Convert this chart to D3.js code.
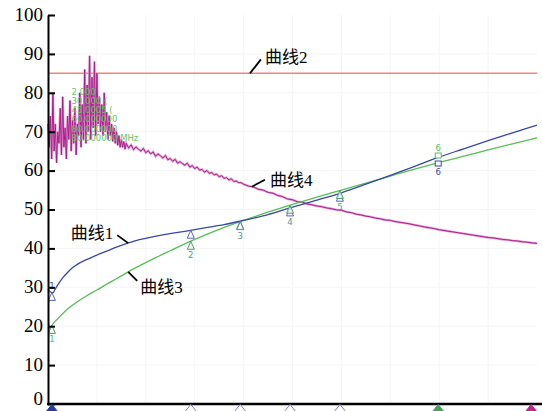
<!DOCTYPE html>
<html>
<head>
<meta charset="utf-8">
<script src="https://cdn.jsdelivr.net/npm/d3@7"></script>
<style>
  body { margin: 0; background: #fff; }
  svg { display: block; }
</style>
</head>
<body>
<div id="chart"></div>
<script>
// values (x in % of span, y in dB)
const yTicks = [0, 10, 20, 30, 40, 50, 60, 70, 80, 90, 100];
const limitValue = 85;
const curveNames = ["曲线1", "曲线2", "曲线3", "曲线4"];

const curve1 = [
  [0, 29.6], [0.5, 28.8], [1, 28.6], [1.5, 29.6], [2, 30.6], [3, 32.4], [4, 33.8], [5, 35.0],
  [6, 35.9], [8, 37.2], [10, 38.3], [12, 39.3], [14, 40.3], [16, 41.2], [18, 42.0], [20, 42.6],
  [24, 43.6], [28, 44.4], [32, 45.3], [36, 46.1], [40, 47.2], [45, 48.7], [50, 50.6], [55, 52.4],
  [60, 54.3], [65, 56.5], [70, 58.8], [75, 61.1], [80, 63.5], [85, 65.6], [90, 67.7], [95, 69.7],
  [100, 71.7]
];

const curve3 = [
  [0, 19.8], [0.4, 19.5], [0.8, 20.2], [1.5, 21.3], [2.5, 22.6], [4, 24.4], [6, 26.3], [8, 27.9],
  [10, 29.3], [12, 30.8], [14, 32.2], [17, 34.4], [21, 37.0], [25, 39.4], [30, 42.3], [35, 44.9],
  [40, 47.2], [45, 49.3], [50, 51.3], [55, 53.2], [60, 55.0], [65, 56.8], [70, 58.6], [75, 60.4],
  [80, 62.1], [85, 63.7], [90, 65.3], [95, 66.9], [100, 68.4]
];

const curve4 = [
  [0, 72], [0.25, 66], [0.5, 74], [0.75, 63], [1, 80], [1.25, 65], [1.5, 72], [1.75, 62],
  [2, 70], [2.25, 67], [2.5, 76], [2.75, 64], [3, 79], [3.25, 66], [3.5, 71], [3.75, 63],
  [4, 74], [4.25, 68], [4.5, 78], [4.75, 65], [5, 73], [5.25, 67], [5.5, 76], [5.75, 64],
  [6, 72], [6.25, 69], [6.5, 80], [6.75, 66], [7, 77], [7.25, 68], [7.5, 86], [7.75, 67],
  [8, 82], [8.25, 70], [8.5, 89.5], [8.75, 68], [9, 84], [9.25, 71], [9.5, 88], [9.75, 69],
  [10, 85], [10.25, 72], [10.5, 79], [10.75, 70], [11, 77], [11.25, 69], [11.5, 80], [11.75, 70],
  [12, 75], [12.25, 68], [12.5, 74], [12.75, 69], [13, 72], [13.25, 67.5], [13.5, 71], [13.75, 67],
  [14, 70], [14.25, 66.5], [14.5, 69], [14.75, 66], [15, 68], [15.25, 66], [15.5, 67.5], [15.75, 65.5],
  [16, 67], [16.5, 65.8], [17, 66.6], [17.5, 65.4], [18, 66.1], [18.5, 65.5], [19, 65.0], [19.5, 65.7],
  [20, 64.6], [20.5, 65.1], [21, 64.3], [21.5, 64.8], [22, 63.7], [22.5, 64.3], [23, 63.8], [23.5, 63.2],
  [24, 63.9], [24.5, 62.8], [25, 63.1], [25.5, 62.4], [26, 62.9], [26.5, 61.9], [27, 62.3], [27.5, 61.8],
  [28, 61.4], [28.5, 61.9], [29, 60.9], [29.5, 61.3], [30, 60.5], [30.5, 60.9], [31, 60.1], [31.5, 60.3],
  [32, 59.6], [32.5, 60.0], [33, 59.3], [33.5, 59.5], [34, 58.9], [34.5, 59.1], [35, 58.4], [35.5, 58.7],
  [36, 58.0], [36.5, 58.2], [37, 57.6], [37.5, 57.9], [38, 57.2], [38.5, 57.3], [39, 56.9], [39.5, 56.9],
  [40, 56.5], [41, 56.0], [42, 55.8], [43, 55.2], [44, 55.0], [45, 54.4], [46, 54.2], [47, 53.6],
  [48, 53.3], [49, 52.7], [50, 52.5], [51, 52.0], [52, 51.9], [53, 51.4], [54, 51.2], [55, 50.9],
  [56, 50.7], [57, 50.4], [58, 50.2], [59, 49.9], [60, 49.8], [61, 49.4], [62, 49.2], [63, 48.8],
  [64, 48.6], [65, 48.3], [66, 48.1], [67, 47.8], [68, 47.6], [69, 47.3], [70, 47.2], [71, 46.9],
  [72, 46.7], [73, 46.5], [74, 46.3], [75, 46.0], [76, 45.8], [77, 45.5], [78, 45.3], [79, 45.1],
  [80, 44.8], [81, 44.6], [82, 44.4], [83, 44.2], [84, 44.0], [85, 43.8], [86, 43.6], [87, 43.4],
  [88, 43.2], [89, 43.0], [90, 42.8], [91, 42.7], [92, 42.5], [93, 42.3], [94, 42.2], [95, 42.0],
  [96, 41.9], [97, 41.7], [98, 41.6], [99, 41.4], [100, 41.3]
];

// marker positions along x, last one is the end marker only
const markerX = [0.8, 29.2, 39.3, 49.5, 59.7, 79.8, 98.8];
const markerLabels = ["1", "2", "3", "4", "5", "6"];
const readoutLines = ["2.000", "30.000 (", "45.0005 (", "60.000000", "80.000000", "80.000000 MHz"];

const margin = {top: 15, right: 5, bottom: 7, left: 48},
  width = 542 - margin.left - margin.right,
  height = 411 - margin.top - margin.bottom;

const blue = "#3a46a8", green = "#55bf55", magenta = "#a8208c", red = "#f08676";
const serif = "'Liberation Serif', 'Times New Roman', 'Noto Sans CJK SC', serif";

const x = d3.scaleLinear().domain([0, 100]).range([0, width]);
const y = d3.scaleLinear().domain([0, 100]).range([height, 0]);

const svg = d3.select("#chart").append("svg")
  .attr("width", width + margin.left + margin.right)
  .attr("height", height + margin.top + margin.bottom);

const plot = svg.append("g")
  .attr("transform", "translate(" + margin.left + "," + margin.top + ")");

// faint grid
plot.append("g").selectAll("line")
  .data(d3.range(10, 100, 10))
  .join("line")
  .attr("x1", d => x(d)).attr("x2", d => x(d))
  .attr("y1", 0).attr("y2", height)
  .attr("stroke", "#f5f5f5");
plot.append("g").selectAll("line")
  .data(yTicks.slice(1, -1))
  .join("line")
  .attr("x1", 0).attr("x2", width)
  .attr("y1", d => y(d)).attr("y2", d => y(d))
  .attr("stroke", "#f5f5f5");

// limit line (曲线2)
plot.append("line")
  .attr("x1", 0).attr("x2", width)
  .attr("y1", y(limitValue)).attr("y2", y(limitValue))
  .attr("stroke", red)
  .attr("stroke-width", 1.5);

const lineSmooth = d3.line().x(d => x(d[0])).y(d => y(d[1])).curve(d3.curveMonotoneX);
const lineRaw = d3.line().x(d => x(d[0])).y(d => y(d[1]));

plot.append("path").datum(curve4)
  .attr("fill", "none").attr("stroke", "#e4a0d2").attr("stroke-width", 2.4)
  .attr("d", lineRaw);
plot.append("path").datum(curve4)
  .attr("fill", "none").attr("stroke", magenta).attr("stroke-width", 1)
  .attr("d", lineRaw);
plot.append("path").datum(curve3)
  .attr("fill", "none").attr("stroke", green).attr("stroke-width", 1.3)
  .attr("d", lineSmooth);
plot.append("path").datum(curve1)
  .attr("fill", "none").attr("stroke", blue).attr("stroke-width", 1.3)
  .attr("d", lineSmooth);

// marker readout text (garbled in the original)
plot.append("g").selectAll("text")
  .data(readoutLines)
  .join("text")
  .attr("x", x(4.8))
  .attr("y", (d, i) => y(79.5) + i * 9.2)
  .attr("fill", "#66c266")
  .style("font-family", "'DejaVu Sans', sans-serif")
  .style("font-size", "8.5px")
  .text(d => d);

// value on a series at position xv
function valueAt(series, xv) {
  const i = d3.bisector(d => d[0]).left(series, xv);
  if (i <= 0) return series[0][1];
  const a = series[i - 1], b = series[i];
  return a[1] + (b[1] - a[1]) * (xv - a[0]) / (b[0] - a[0]);
}

// markers on curve 1 and curve 3
const tri = "M0,0L3.5,8L-3.5,8Z";
const markers = plot.append("g");
markerLabels.forEach((lab, i) => {
  const mx = x(markerX[i]);
  const yb = y(valueAt(curve1, markerX[i]));
  const yg = y(valueAt(curve3, markerX[i]));
  if (i < 5) {
    markers.append("path").attr("d", tri)
      .attr("transform", "translate(" + mx + "," + yb + ")")
      .attr("fill", "#fff").attr("fill-opacity", 0.7)
      .attr("stroke", "#5a64b8").attr("stroke-width", 1);
    markers.append("path").attr("d", tri)
      .attr("transform", "translate(" + mx + "," + yg + ")")
      .attr("fill", "#fff").attr("fill-opacity", 0.7)
      .attr("stroke", "#4aa070").attr("stroke-width", 1);
    const low = Math.max(yb, yg);
    markers.append("text")
      .attr("x", mx).attr("y", low + 17)
      .attr("text-anchor", "middle")
      .attr("fill", i === 0 ? green : "#4a9aa0")
      .style("font-family", "'DejaVu Sans', sans-serif").style("font-size", "8.5px")
      .text(lab);
    if (i === 0) {
      markers.append("text")
        .attr("x", mx).attr("y", Math.min(yb, yg) - 3)
        .attr("text-anchor", "middle").attr("fill", blue)
        .style("font-family", "'DejaVu Sans', sans-serif").style("font-size", "8.5px")
        .text(lab);
    }
  } else {
    const mid = (yb + yg) / 2;
    markers.append("rect").attr("x", mx - 3).attr("y", mid - 7).attr("width", 6).attr("height", 5)
      .attr("fill", "#fff").attr("stroke", green);
    markers.append("rect").attr("x", mx - 3).attr("y", mid + 1).attr("width", 6).attr("height", 5)
      .attr("fill", "#fff").attr("stroke", blue);
    markers.append("text").attr("x", mx).attr("y", mid - 9)
      .attr("text-anchor", "middle").attr("fill", green)
      .style("font-family", "'DejaVu Sans', sans-serif").style("font-size", "8.5px").text(lab);
    markers.append("text").attr("x", mx).attr("y", mid + 15)
      .attr("text-anchor", "middle").attr("fill", blue)
      .style("font-family", "'DejaVu Sans', sans-serif").style("font-size", "8.5px").text(lab);
  }
});

// curve name labels with leader lines
const notes = [
  {name: curveNames[0], series: curve1, at: 16.4, lx: -11, ly: -8, tx: -4, ty: 4, anchor: "end"},
  {name: curveNames[1], series: null, at: 41.3, lx: 11, ly: -14, tx: 4, ty: 4, anchor: "start"},
  {name: curveNames[2], series: curve3, at: 16.4, lx: 9, ly: 9, tx: 3, ty: 12, anchor: "start"},
  {name: curveNames[3], series: curve4, at: 41.7, lx: 13, ly: -7, tx: 5, ty: 6, anchor: "start"}
];
const noteG = plot.append("g");
notes.forEach(n => {
  const px = x(n.at);
  const py = y(n.series ? valueAt(n.series, n.at) : limitValue);
  noteG.append("line")
    .attr("x1", px).attr("y1", py)
    .attr("x2", px + n.lx).attr("y2", py + n.ly)
    .attr("stroke", "#000").attr("stroke-width", 1.8);
  noteG.append("text")
    .attr("x", px + n.lx + n.tx).attr("y", py + n.ly + n.ty)
    .attr("text-anchor", n.anchor)
    .style("font-family", serif).style("font-size", "17px")
    .text(n.name);
});

// axes
const yAxis = d3.axisLeft(y)
  .tickValues(yTicks)
  .tickSize(-7)
  .tickSizeOuter(0)
  .tickPadding(5);
const gy = plot.append("g").call(yAxis);
gy.select(".domain").attr("stroke-width", 2);
gy.selectAll(".tick line").attr("stroke-width", 2);
gy.selectAll("text")
  .style("font-family", serif)
  .style("font-size", "19px")
  .attr("dy", d => d === 0 ? "0.05em" : "0.28em")
  .attr("fill", "#000");

const xAxis = d3.axisBottom(x).tickValues([]).tickSizeOuter(0);
const gx = plot.append("g")
  .attr("transform", "translate(0," + height + ")")
  .call(xAxis);
gx.select(".domain").attr("stroke-width", 2.5).attr("d", "M-1,0H" + (width + 6));

// marker triangles under the x axis
const bottomFill = ["#2b3c9e", "#fff", "#fff", "#fff", "#fff", "#3ea84a", "#c0258e"];
const bottomStroke = ["#2b3c9e", "#7a7ac8", "#7a7ac8", "#7a7ac8", "#7a7ac8", "#7a7ac8", "#c0258e"];
plot.append("g").selectAll("path")
  .data(markerX)
  .join("path")
  .attr("d", "M0,0L6.5,8L-6.5,8Z")
  .attr("transform", d => "translate(" + x(d) + "," + (height + 0.5) + ")")
  .attr("fill", (d, i) => bottomFill[i])
  .attr("stroke", (d, i) => bottomStroke[i])
  .attr("stroke-width", 1);
</script>
</body>
</html>
